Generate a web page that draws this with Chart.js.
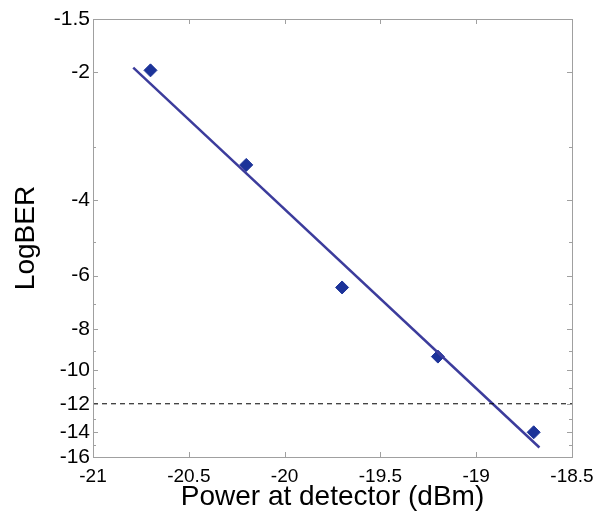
<!DOCTYPE html>
<html>
<head>
<meta charset="utf-8">
<script src="https://cdn.jsdelivr.net/npm/chart.js@4/dist/chart.umd.min.js"></script>
<style>
  html, body { margin: 0; padding: 0; background: #fff; }
  #wrap { width: 597px; height: 515px; }
</style>
</head>
<body>
<div id="wrap"><canvas id="chart"></canvas></div>
<script>
// measured points
const powerDbm = [-20.7, -20.2, -19.7, -19.2, -18.7];
const logBer = [-1.98, -3.3, -6.4, -9.3, -14.0];

// fitted line endpoints
const fitPower = [-20.79, -18.67];
const fitLogBer = [-1.95, -15.2];

// BER limit
const limitPower = [-21, -18.5];
const limitLogBer = [-12, -12];

const xTicks = [-21, -20.5, -20, -19.5, -19, -18.5];
const yTicks = [-1.5, -2, -4, -6, -8, -10, -12, -14, -16];
const yMinorTicks = [-3, -5, -7, -9, -11, -13, -15];

const FONT = "'Liberation Sans', Arial, sans-serif";

// y axis is log10(-LogBER), drawn downward
const toPts = (xs, ys) => xs.map((x, i) => ({ x, y: -ys[i] }));

// box frame with inward ticks, MATLAB style
const boxPlugin = {
  id: "box",
  afterDraw(chart) {
    const { ctx, chartArea: a, scales } = chart;
    ctx.save();
    ctx.strokeStyle = "#a0a0a0";
    ctx.lineWidth = 1;
    ctx.strokeRect(a.left + 0.5, a.top + 0.5, a.right - a.left, a.bottom - a.top);
    ctx.beginPath();
    xTicks.forEach((v) => {
      const x = Math.round(scales.x.getPixelForValue(v)) + 0.5;
      ctx.moveTo(x, a.bottom); ctx.lineTo(x, a.bottom - 5);
      ctx.moveTo(x, a.top); ctx.lineTo(x, a.top + 5);
    });
    yTicks.forEach((v) => {
      const y = Math.round(scales.y.getPixelForValue(-v)) + 0.5;
      ctx.moveTo(a.left, y); ctx.lineTo(a.left + 5, y);
      ctx.moveTo(a.right, y); ctx.lineTo(a.right - 5, y);
    });
    yMinorTicks.forEach((v) => {
      const y = Math.round(scales.y.getPixelForValue(-v)) + 0.5;
      ctx.moveTo(a.left, y); ctx.lineTo(a.left + 3, y);
      ctx.moveTo(a.right, y); ctx.lineTo(a.right - 3, y);
    });
    ctx.stroke();
    ctx.restore();
  },
};

new Chart(document.getElementById("chart"), {
  type: "scatter",
  plugins: [boxPlugin],
  data: {
    datasets: [
      {
        data: toPts(limitPower, limitLogBer),
        showLine: true,
        borderColor: "#000",
        borderWidth: 1,
        borderDash: [5, 4],
        pointRadius: 0,
      },
      {
        data: toPts(fitPower, fitLogBer),
        showLine: true,
        borderColor: "#3c3c9c",
        borderWidth: 2.5,
        pointRadius: 0,
      },
      {
        data: toPts(powerDbm, logBer),
        pointStyle: "rectRot",
        pointRadius: 6.5,
        backgroundColor: "#1c3399",
        borderColor: "#1c3399",
        borderWidth: 1,
      },
    ],
  },
  options: {
    responsive: true,
    maintainAspectRatio: false,
    animation: false,
    layout: { padding: { top: 19, right: 25, left: 0, bottom: 0 } },
    plugins: { legend: { display: false }, tooltip: { enabled: false } },
    scales: {
      x: {
        type: "linear",
        min: -21,
        max: -18.5,
        afterBuildTicks: (s) => { s.ticks = xTicks.map((v) => ({ value: v })); },
        afterFit: (s) => { s.height = 58; s.paddingLeft = 0; s.paddingRight = 0; },
        grid: { display: false, drawTicks: false, tickLength: 0 },
        border: { display: false },
        ticks: {
          color: "#000",
          font: { family: FONT, size: 19 },
          padding: 8,
          maxRotation: 0,
          callback: (v) => String(v),
        },
        title: {
          display: true,
          text: "Power at detector (dBm)",
          color: "#000",
          font: { family: FONT, size: 28 },
          padding: { top: 0, bottom: 1 },
        },
      },
      y: {
        type: "logarithmic",
        reverse: true,
        min: 1.5,
        max: 16,
        afterBuildTicks: (s) => { s.ticks = yTicks.map((v) => ({ value: -v })); },
        afterFit: (s) => { s.width = 93; s.paddingTop = 0; s.paddingBottom = 0; },
        grid: { display: false, drawTicks: false, tickLength: 0 },
        border: { display: false },
        ticks: {
          color: "#000",
          font: { family: FONT, size: 21 },
          padding: 3,
          callback: (v) => String(-v),
        },
        title: {
          display: true,
          text: "LogBER",
          color: "#000",
          font: { family: FONT, size: 28 },
          padding: { top: 9, bottom: 0 },
        },
      },
    },
  },
});
</script>
</body>
</html>
